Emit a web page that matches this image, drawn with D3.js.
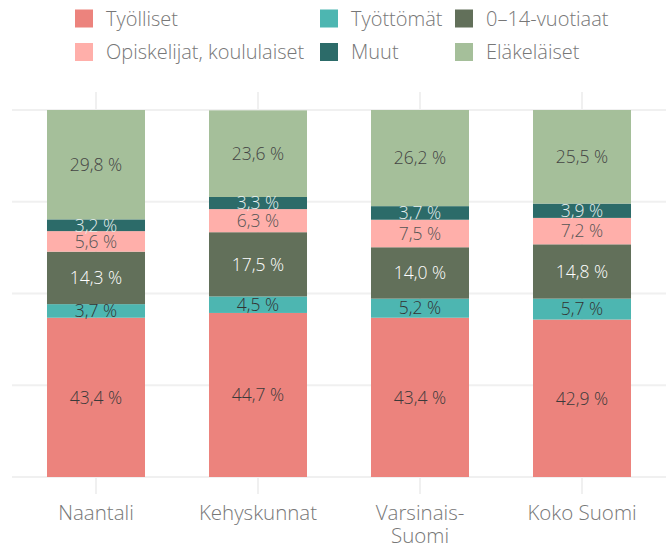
<!DOCTYPE html>
<html><head><meta charset="utf-8">
<script src="https://cdn.jsdelivr.net/npm/d3@7"></script>
<style>
html,body{margin:0;padding:0;background:#fff;}
svg{display:block;font-family:"Open Sans",sans-serif;font-weight:300;}
</style></head>
<body>
<svg id="c" width="667" height="545"></svg>
<script>
const categories = ["Naantali","Kehyskunnat","Varsinais-Suomi","Koko Suomi"];
const categoryLines = [["Naantali"],["Kehyskunnat"],["Varsinais-","Suomi"],["Koko Suomi"]];
const seriesNames = ["Työlliset","Työttömät","0–14-vuotiaat","Opiskelijat, koululaiset","Muut","Eläkeläiset"];
const tyolliset  = [43.4, 44.7, 43.4, 42.9];
const tyottomat  = [3.7, 4.5, 5.2, 5.7];
const lapset     = [14.3, 17.5, 14.0, 14.8];
const opiskelijat= [5.6, 6.3, 7.5, 7.2];
const muut       = [3.2, 3.3, 3.7, 3.9];
const elakelaiset= [29.8, 23.6, 26.2, 25.5];
const yTicks = [0, 25, 50, 75, 100];

const seriesValues = [tyolliset, tyottomat, lapset, opiskelijat, muut, elakelaiset];
const colors = ["#EC837D","#4DB6B1","#62705A","#FFAFAA","#2C6B69","#A5BF9A"];
const labelColors = ["#3a3a3a","#333","#ffffff","#555","#e6efee","#444"];

const svg = d3.select("#c");
const x = d3.scaleBand().domain(categories).range([15, 663]).paddingInner(0.395).paddingOuter(0.1975);
const y = d3.scaleLinear().domain([0, 100]).range([477, 110]);

// grid
const grid = svg.append("g");
grid.selectAll("line.h").data(yTicks).join("line")
  .attr("x1", 12).attr("x2", 666)
  .attr("y1", d => y(d)).attr("y2", d => y(d))
  .attr("stroke", "#f0f0f0").attr("stroke-width", 2);
grid.selectAll("line.v").data(categories).join("line")
  .attr("x1", d => x(d) + x.bandwidth()/2).attr("x2", d => x(d) + x.bandwidth()/2)
  .attr("y1", 92).attr("y2", 494)
  .attr("stroke", "#f0f0f0").attr("stroke-width", 2);

// stack
const rows = categories.map((c, i) => {
  const o = {cat: c};
  seriesNames.forEach((s, j) => o[s] = seriesValues[j][i]);
  return o;
});
const stack = d3.stack().keys(seriesNames)(rows);

const fmt = v => v.toFixed(1).replace(".", ",") + " %";

stack.forEach((layer, j) => {
  const g = svg.append("g");
  g.selectAll("rect").data(layer).join("rect")
    .attr("x", d => x(d.data.cat))
    .attr("width", x.bandwidth())
    .attr("y", d => y(d[1]))
    .attr("height", d => y(d[0]) - y(d[1]))
    .attr("fill", colors[j]);
});
stack.forEach((layer, j) => {
  const g = svg.append("g");
  g.selectAll("text").data(layer).join("text")
    .attr("x", d => x(d.data.cat) + x.bandwidth()/2)
    .attr("y", d => (y(d[0]) + y(d[1]))/2)
    .attr("dy", "0.36em")
    .attr("text-anchor", "middle")
    .attr("font-size", 17.5)
    .attr("fill", labelColors[j])
    .text(d => fmt(d[1] - d[0]));
});

// x axis labels
const xl = svg.append("g");
categories.forEach((c, i) => {
  const t = xl.append("text")
    .attr("x", x(c) + x.bandwidth()/2)
    .attr("y", 520)
    .attr("text-anchor", "middle")
    .attr("font-size", 20.5)
    .attr("fill", "#777");
  categoryLines[i].forEach((l, k) => {
    t.append("tspan").attr("x", x(c) + x.bandwidth()/2).attr("dy", k === 0 ? 0 : 22.7).text(l);
  });
});

// legend
const legendPos = [[75,18.5],[320,18.5],[455,18.5],[75,52],[320,52],[455,52]];
const lg = svg.append("g");
seriesNames.forEach((name, j) => {
  const [lx, ly] = legendPos[j];
  lg.append("rect").attr("x", lx).attr("y", ly - 9).attr("width", 18).attr("height", 18).attr("fill", colors[j]);
  lg.append("text").attr("x", lx + 31).attr("y", ly).attr("dy", "0.36em")
    .attr("font-size", 20).attr("fill", "#777").text(name);
});
</script>
</body></html>
